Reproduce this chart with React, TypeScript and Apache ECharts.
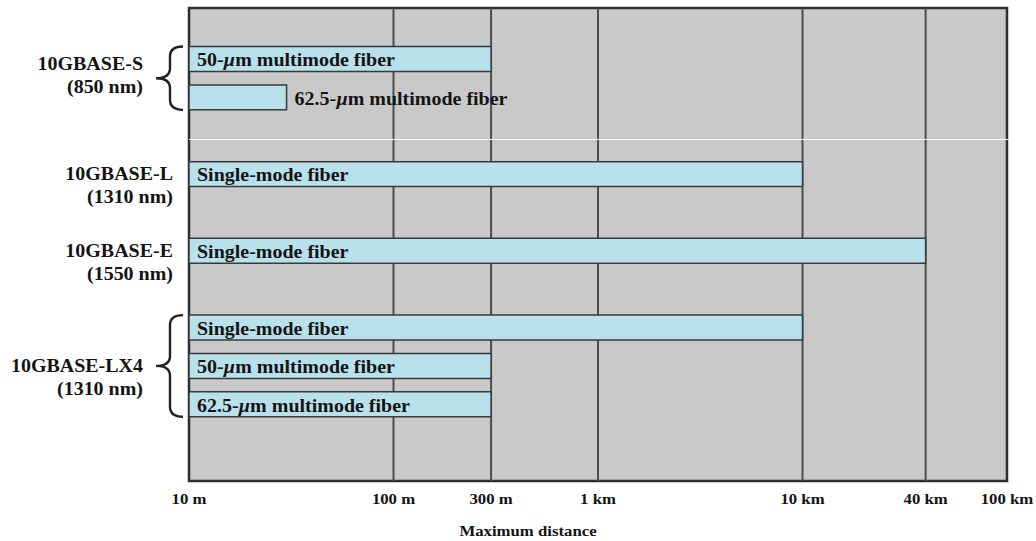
import React, { useEffect, useRef } from "react";
import * as echarts from "echarts";

// ---- data ----
const fiberRows = [1, 2, 4, 6, 8, 9, 10];
const fiberNames = [
  "50-µm multimode fiber",
  "62.5-µm multimode fiber",
  "Single-mode fiber",
  "Single-mode fiber",
  "Single-mode fiber",
  "50-µm multimode fiber",
  "62.5-µm multimode fiber",
];
const maxDistances = [300, 30, 10000, 40000, 10000, 300, 300];

const groupNames = ["10GBASE-S", "10GBASE-L", "10GBASE-E", "10GBASE-LX4"];
const groupWavelengths = ["(850 nm)", "(1310 nm)", "(1550 nm)", "(1310 nm)"];
const groupFirstRows = [1, 4, 6, 8];
const groupLastRows = [2, 4, 6, 10];
const groupLabelRows = [1.13, 4, 6, 9];

const tickValues = [10, 100, 300, 1000, 10000, 40000, 100000];
const tickLabels = ["10 m", "100 m", "300 m", "1 km", "10 km", "40 km", "100 km"];
const axisTitle = "Maximum distance";

// ---- style ----
const FONT = '"Liberation Serif", "Times New Roman", Times, serif';
const SX = 1.08;
const LABEL_SIZE = 18.5;
const TICK_SIZE = 15.5;
const INK = "#141414";

let measureCtx: CanvasRenderingContext2D | null = null;
function measure(text: string, size: number): number {
  if (!measureCtx) measureCtx = document.createElement("canvas").getContext("2d");
  if (!measureCtx) return text.length * size * 0.5;
  measureCtx.font = `bold ${size}px ${FONT}`;
  return measureCtx.measureText(text).width;
}

function toRich(text: string): string {
  return text
    .split("µ")
    .map((s) => (s ? `{n|${s}}` : ""))
    .join("{i|µ}");
}

const richStyles = {
  n: { fontFamily: FONT, fontWeight: "bold", fontSize: LABEL_SIZE, fill: INK },
  i: { fontFamily: FONT, fontWeight: "bold", fontStyle: "italic", fontSize: LABEL_SIZE, fill: INK },
};

export default function App() {
  const ref = useRef<HTMLDivElement>(null);

  useEffect(() => {
    if (!ref.current) return;
    const chart = echarts.init(ref.current, undefined, { renderer: "svg" });

    const option: any = {
      animation: false,
      backgroundColor: "#ffffff",
      grid: {
        left: 189,
        right: 29,
        top: 8,
        bottom: 60,
        show: true,
        backgroundColor: "#c9c9c9",
        borderColor: "#2e2e2e",
        borderWidth: 2.5,
      },
      xAxis: {
        type: "log",
        logBase: 10,
        min: 10,
        max: 100000,
        axisLine: { show: false },
        axisTick: { show: false },
        axisLabel: { show: false },
        splitLine: { show: false },
      },
      yAxis: {
        type: "value",
        min: -0.33,
        max: 12,
        inverse: true,
        show: false,
        splitLine: { show: false },
      },
      series: [
        {
          type: "custom",
          name: "ticks",
          z: 1,
          data: tickValues.map((v) => [v, 0]),
          encode: { x: 0, y: 1 },
          renderItem: (params: any, api: any) => {
            const v = api.value(0);
            const cs = params.coordSys;
            const p = api.coord([v, 0]);
            const children: any[] = [];
            const atEdge = Math.abs(p[0] - cs.x) < 1 || Math.abs(p[0] - (cs.x + cs.width)) < 1;
            if (!atEdge) {
              children.push({
                type: "line",
                shape: { x1: p[0], y1: cs.y, x2: p[0], y2: cs.y + cs.height },
                style: { stroke: "#4d4d4d", lineWidth: 2 },
              });
            }
            children.push({
              type: "text",
              x: p[0],
              y: cs.y + cs.height + 18,
              scaleX: SX,
              style: {
                text: tickLabels[params.dataIndex],
                fontFamily: FONT,
                fontWeight: "bold",
                fontSize: TICK_SIZE,
                fill: INK,
                align: "center",
                verticalAlign: "middle",
              },
            });
            return { type: "group", children };
          },
        },
        {
          type: "custom",
          name: "fibers",
          z: 3,
          data: maxDistances.map((d, i) => [d, fiberRows[i]]),
          encode: { x: 0, y: 1 },
          renderItem: (params: any, api: any) => {
            const v = api.value(0);
            const r = api.value(1);
            const start = api.coord([10, r]);
            const end = api.coord([v, r]);
            const h = api.size([0, 1])[1] * 0.65;
            const w = end[0] - start[0];
            const name = fiberNames[params.dataIndex];
            const textW = measure(name, LABEL_SIZE) * SX;
            const inside = textW + 14 < w;
            const tx = inside ? start[0] + 8 : end[0] + 8;
            return {
              type: "group",
              children: [
                {
                  type: "rect",
                  shape: { x: start[0], y: start[1] - h / 2, width: w, height: h },
                  style: { fill: "#b9e1ec", stroke: "#3a3a3a", lineWidth: 1.5 },
                },
                {
                  type: "text",
                  x: tx,
                  y: start[1] + 1,
                  scaleX: SX,
                  style: {
                    text: toRich(name),
                    rich: richStyles,
                    fontFamily: FONT,
                    fontWeight: "bold",
                    fontSize: LABEL_SIZE,
                    fill: INK,
                    align: "left",
                    verticalAlign: "middle",
                  },
                },
              ],
            };
          },
        },
        {
          type: "custom",
          name: "groups",
          z: 4,
          data: groupNames.map((_, i) => [10, groupLabelRows[i]]),
          encode: { x: 0, y: 1 },
          renderItem: (params: any, api: any) => {
            const i = params.dataIndex;
            const cs = params.coordSys;
            const first = groupFirstRows[i];
            const last = groupLastRows[i];
            const hasBrace = last > first;
            const h = api.size([0, 1])[1] * 0.65;
            const labelY = api.coord([10, groupLabelRows[i]])[1];
            const rightX = hasBrace ? cs.x - 46 : cs.x - 16;
            const children: any[] = [
              {
                type: "text",
                x: rightX,
                y: labelY,
                scaleX: SX,
                style: {
                  text: groupNames[i],
                  fontFamily: FONT,
                  fontWeight: "bold",
                  fontSize: LABEL_SIZE,
                  fill: INK,
                  align: "right",
                  verticalAlign: "middle",
                },
              },
              {
                type: "text",
                x: rightX,
                y: labelY + 23,
                scaleX: SX,
                style: {
                  text: groupWavelengths[i],
                  fontFamily: FONT,
                  fontWeight: "bold",
                  fontSize: LABEL_SIZE,
                  fill: INK,
                  align: "right",
                  verticalAlign: "middle",
                },
              },
            ];
            if (hasBrace) {
              const yTop = api.coord([10, first])[1] - h / 2;
              const yBot = api.coord([10, last])[1] + h / 2;
              const yMid = (yTop + yBot) / 2;
              const x0 = cs.x - 6;
              const xm = cs.x - 19;
              const xt = cs.x - 33;
              const r = 10;
              const d =
                `M${x0},${yTop} Q${xm},${yTop} ${xm},${yTop + r} ` +
                `L${xm},${yMid - r} Q${xm},${yMid} ${xt},${yMid} ` +
                `Q${xm},${yMid} ${xm},${yMid + r} ` +
                `L${xm},${yBot - r} Q${xm},${yBot} ${x0},${yBot}`;
              children.push({
                type: "path",
                shape: { pathData: d },
                style: { fill: "none", stroke: "#222222", lineWidth: 2.4 },
              });
            }
            return { type: "group", children };
          },
        },
      ],
      graphic: [
        {
          type: "text",
          x: 528,
          y: 531,
          scaleX: SX,
          style: {
            text: axisTitle,
            fontFamily: FONT,
            fontWeight: "bold",
            fontSize: TICK_SIZE,
            fill: INK,
            align: "center",
            verticalAlign: "middle",
          },
        },
        {
          type: "line",
          z: 100,
          shape: { x1: 189, y1: 139.5, x2: 1036, y2: 139.5 },
          style: { stroke: "#ffffff", lineWidth: 1.2 },
        },
      ],
    };

    chart.setOption(option);
    return () => chart.dispose();
  }, []);

  return (
    <div
      ref={ref}
      style={{ position: "fixed", left: 0, top: 0, width: 1036, height: 541, background: "#fff" }}
    />
  );
}
